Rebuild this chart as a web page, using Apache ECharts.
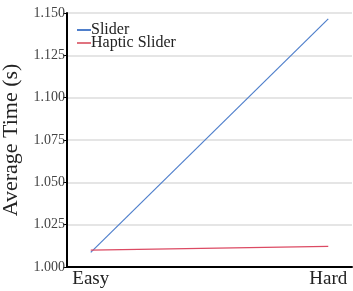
<!DOCTYPE html>
<html>
<head>
<meta charset="utf-8">
<script src="https://cdn.jsdelivr.net/npm/echarts@6/dist/echarts.min.js"></script>
<style>
  html, body { margin: 0; padding: 0; background: #fff; }
  #chart { width: 353px; height: 291px; }
</style>
</head>
<body>
<div id="chart"></div>
<script>
// data
var categories = ['Easy', 'Hard'];
var slider = [1.0086, 1.1465];
var hapticSlider = [1.0100, 1.0122];

var serif = '"Liberation Serif", "DejaVu Serif", serif';

function toPoints(vals) {
    return categories.map(function (c, i) { return [i, vals[i]]; });
}

var myChart = echarts.init(document.getElementById('chart'));
var option = {
    animation: false,
    grid: { left: 67, right: 1, top: 13, bottom: 24, containLabel: false, outerBoundsMode: 'none' },
    legend: {
        left: 72, top: 17,
        orient: 'vertical',
        itemWidth: 14, itemHeight: 2, itemGap: -3,
        icon: 'rect',
        textStyle: { fontFamily: serif, fontSize: 16, color: '#222', padding: [0, 0, 0, -5] },
        data: ['Slider', 'Haptic Slider']
    },
    xAxis: {
        type: 'value',
        min: -0.1, max: 1.1,
        axisLine: { show: true, onZero: false, lineStyle: { color: '#000', width: 2 } },
        axisTick: { show: false },
        splitLine: { show: false },
        axisLabel: {
            customValues: [0, 1],
            formatter: function (v) { return categories[Math.round(v)]; },
            fontFamily: serif, fontSize: 19, color: '#222', margin: 3
        }
    },
    yAxis: {
        type: 'value',
        min: 1.0, max: 1.15, interval: 0.025,
        name: 'Average Time (s)',
        nameLocation: 'middle',
        nameGap: 45,
        nameTextStyle: { fontFamily: serif, fontSize: 22, color: '#222' },
        axisLine: { show: true, onZero: false, lineStyle: { color: '#000', width: 2 } },
        axisTick: { show: true, length: 4, lineStyle: { color: '#000' } },
        splitLine: { lineStyle: { color: '#dcdcdc', width: 1.5 } },
        axisLabel: {
            formatter: function (v) { return v.toFixed(3); },
            fontFamily: serif, fontSize: 14, color: '#444', margin: 2
        }
    },
    series: [
        {
            name: 'Slider', type: 'line',
            data: toPoints(slider),
            symbol: 'none',
            lineStyle: { color: '#4f7fcb', width: 1.2 },
            itemStyle: { color: '#4f7fcb' }
        },
        {
            name: 'Haptic Slider', type: 'line',
            data: toPoints(hapticSlider),
            symbol: 'none',
            lineStyle: { color: '#dc4a63', width: 1.2 },
            itemStyle: { color: '#e0737f' }
        }
    ]
};
myChart.setOption(option);
</script>
</body>
</html>
